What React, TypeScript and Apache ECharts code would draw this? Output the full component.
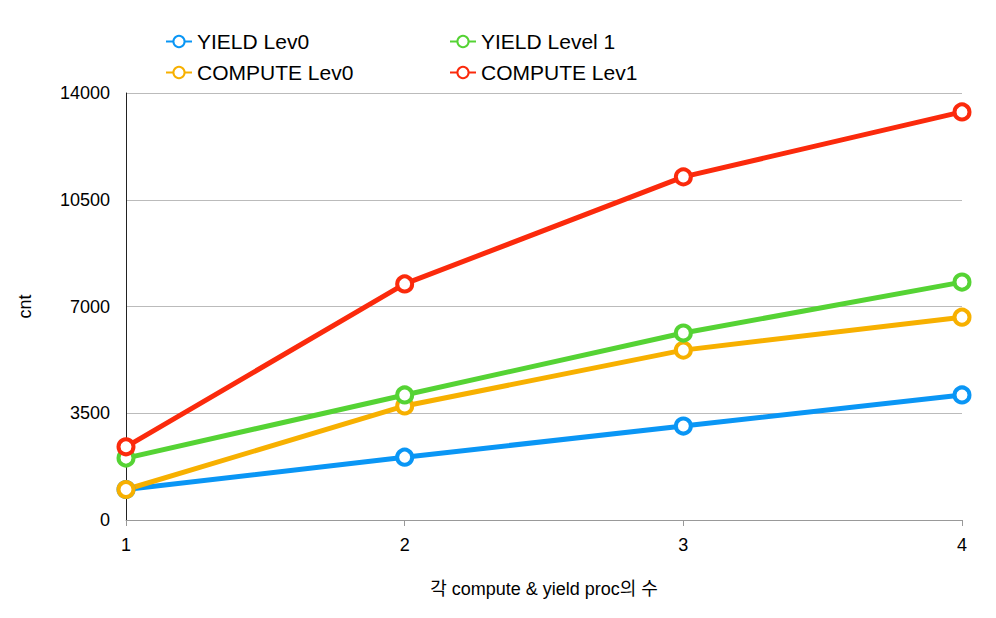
import React, { useEffect, useRef } from 'react';
import * as echarts from 'echarts';

const xValues = [1, 2, 3, 4];
const yieldLev0 = [1000, 2060, 3080, 4100];
const computeLev0 = [1000, 3740, 5570, 6650];
const yieldLev1 = [2030, 4100, 6130, 7800];
const computeLev1 = [2400, 7740, 11250, 13380];

const seriesDefs = [
  { name: 'YIELD Lev0', data: yieldLev0, color: '#0a96f5' },
  { name: 'COMPUTE Lev0', data: computeLev0, color: '#f7b000' },
  { name: 'YIELD Level 1', data: yieldLev1, color: '#55d334' },
  { name: 'COMPUTE Lev1', data: computeLev1, color: '#fb2a0c' },
];

const font = 'Helvetica, "Liberation Sans", Arial, sans-serif';

const App: React.FC = () => {
  const chartRef = useRef<HTMLDivElement>(null);

  useEffect(() => {
    if (!chartRef.current) return;
    const chart = echarts.init(chartRef.current, undefined, { renderer: 'svg' });

    const legendBase = {
      orient: 'vertical' as const,
      top: 18,
      itemWidth: 26,
      itemHeight: 14,
      itemGap: 10,
      textStyle: { fontSize: 21, color: '#000', fontFamily: font },
    };

    chart.setOption({
      animation: false,
      textStyle: { fontFamily: font },
      legend: [
        { ...legendBase, left: 152, data: ['YIELD Lev0', 'COMPUTE Lev0'] },
        { ...legendBase, left: 436, data: ['YIELD Level 1', 'COMPUTE Lev1'] },
      ],
      grid: { left: 114, right: 26, top: 85, bottom: 90 },
      xAxis: {
        type: 'value',
        min: 1,
        max: 4,
        interval: 1,
        name: '각 compute & yield proc의 수',
        nameLocation: 'middle',
        nameGap: 60,
        nameTextStyle: { fontSize: 18, color: '#000', fontFamily: `${font}, "Noto Sans CJK KR"` },
        axisLine: { show: true, lineStyle: { color: '#999' } },
        axisTick: { show: true, length: 6, lineStyle: { color: '#999' } },
        axisLabel: { fontSize: 18, color: '#000', margin: 16 },
        splitLine: { show: false },
      },
      yAxis: {
        type: 'value',
        min: 0,
        max: 14000,
        interval: 3500,
        name: 'cnt',
        nameLocation: 'middle',
        nameGap: 92,
        nameTextStyle: { fontSize: 18, color: '#000' },
        axisLine: { show: true, lineStyle: { color: '#222' } },
        axisTick: { show: false },
        axisLabel: { fontSize: 18, color: '#000', margin: 16, formatter: (v: number) => String(v) },
        splitLine: { lineStyle: { color: '#bbb' } },
      },
      series: seriesDefs.map((s) => ({
        name: s.name,
        type: 'line',
        data: s.data.map((v, i) => [xValues[i], v]),
        symbol: 'circle',
        symbolSize: 15,
        color: s.color,
        lineStyle: { width: 5, color: s.color },
        itemStyle: { color: '#fff', borderColor: s.color, borderWidth: 4 },
      })),
    });

    return () => chart.dispose();
  }, []);

  return <div ref={chartRef} style={{ width: 980, height: 602 }} />;
};

export default App;
